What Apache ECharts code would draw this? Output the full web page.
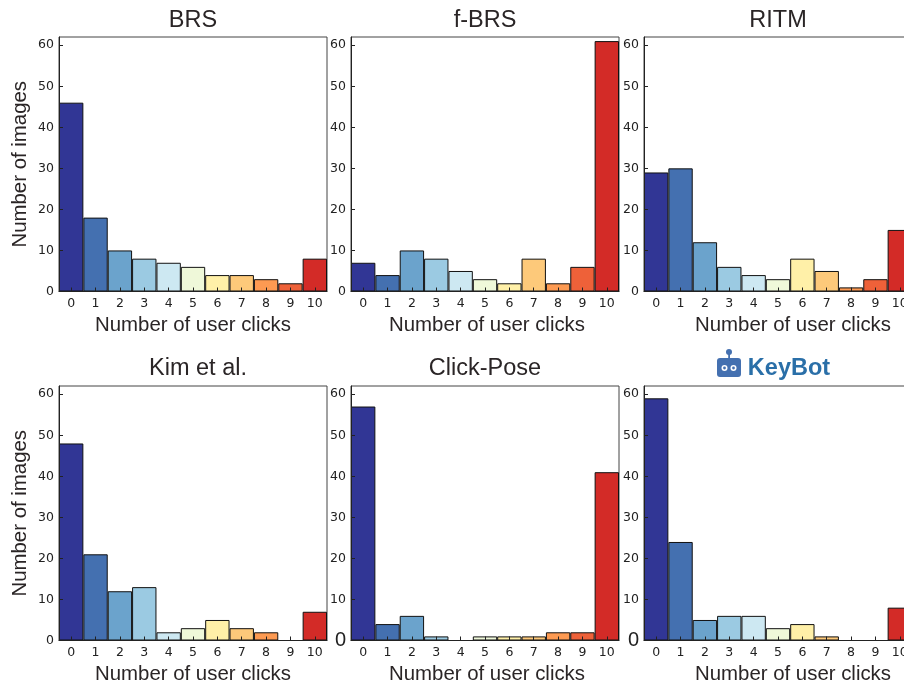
<!DOCTYPE html>
<html>
<head>
<meta charset="utf-8">
<style>html,body{margin:0;padding:0;background:#fff;overflow:hidden}#c{width:904px;height:685px}</style>
<script src="https://cdn.jsdelivr.net/npm/echarts@6/dist/echarts.min.js"></script>
</head>
<body>
<div id="c"></div>
<script>
const categories = ['0','1','2','3','4','5','6','7','8','9','10'];
const yTicks = [0,10,20,30,40,50,60];
const barColors = ['#313695','#4470b0','#6ba3cc','#9bcae2','#cde8f2','#eff8d9','#fff0a8','#fdc97a','#fd9a52','#ee6139','#d32b27'];
const brs = [46,18,10,8,7,6,4,4,3,2,8];
const fbrs = [7,4,10,8,5,3,2,8,2,6,61];
const ritm = [29,30,12,6,4,3,8,5,1,3,15];
const kim = [48,21,12,13,2,3,5,3,2,0,7];
const clickPose = [57,4,6,1,0,1,1,1,2,2,41];
const keyBot = [59,24,5,6,6,3,4,1,0,0,8];
const panels = [
  {name:'BRS', values:brs, left:59, top:37, yName:true, titleDx:0, titleDy:1, xNameDx:0},
  {name:'f-BRS', values:fbrs, left:351, top:37, titleDx:0, titleDy:1, xNameDx:2},
  {name:'RITM', values:ritm, left:644, top:37, titleDx:0, titleDy:1, xNameDx:15},
  {name:'Kim et al.', values:kim, left:59, top:386, yName:true, titleDx:5, titleDy:0, xNameDx:0},
  {name:'Click-Pose', values:clickPose, left:351, top:386, bigZero:true, titleDx:0, titleDy:0, xNameDx:2},
  {name:'KeyBot', values:keyBot, left:644, top:386, bigZero:true, brand:true, titleDx:11, titleDy:0, xNameDx:15}
];
const W = 268, H = 254.5;
const chart = echarts.init(document.getElementById('c'), null, {renderer:'canvas'});
const tickFont = 'DejaVu Sans', textFont = 'Liberation Sans';
chart.setOption({
  animation:false,
  backgroundColor:'#fff',
  title: panels.map(p => ({
    text:p.name,
    padding:0,
    left: p.left + W/2 + p.titleDx,
    top:p.top - 29 + p.titleDy,
    textAlign:'center',
    textStyle:{
      fontFamily:textFont,
      fontSize:23.5,
      fontWeight:p.brand ? 'bold' : 'normal',
      color:p.brand ? '#2a6fa8' : '#2a2526'
    }
  })),
  grid: panels.map(p => ({left:p.left, top:p.top, width:W, height:H, show:true, borderColor:'#444', borderWidth:1, backgroundColor:'transparent', containLabel:false, outerBoundsMode:'none'})),
  xAxis: panels.map((p,i) => ({
    type:'category', gridIndex:i, data:categories, boundaryGap:true, z:5,
    name:'Number of user clicks', nameLocation:'middle', nameGap:24,
    nameTextStyle:{fontFamily:textFont, fontSize:20.4, color:'#2a2526', padding:[0,0,0,2*p.xNameDx]},
    axisLine:{show:true, lineStyle:{color:'#222', width:1}},
    axisTick:{show:true, inside:true, alignWithLabel:true, length:4, lineStyle:{color:'#222', width:1}},
    axisLabel:{show:true, interval:0, fontFamily:tickFont, fontSize:12.5, color:'#222', margin:6}
  })),
  yAxis: panels.map((p,i) => ({
    type:'value', gridIndex:i, min:0, max:62, z:5,
    name:p.yName ? 'Number of images' : '', nameLocation:'middle', nameGap:29, nameRotate:90,
    nameTextStyle:{fontFamily:textFont, fontSize:20.4, color:'#2a2526'},
    splitLine:{show:false},
    axisLine:{show:true, onZero:false, lineStyle:{color:'#222', width:1}},
    axisTick:{show:true, inside:true, length:4, customValues:yTicks, lineStyle:{color:'#222', width:1}},
    axisLabel:{
      show:true, customValues:yTicks, fontFamily:tickFont, fontSize:12.5, color:'#222', margin:5,
      formatter:v => (p.bigZero && v===0) ? '{big|0}' : String(v),
      rich:{big:{fontFamily:textFont, fontSize:20, color:'#222'}}
    }
  })),
  series: panels.map((p,i) => ({
    type:'bar', xAxisIndex:i, yAxisIndex:i, barWidth:'100%', barGap:'0%', z:2,
    data:p.values.map((v,j) => ({value:v, itemStyle:{color:barColors[j]}})),
    itemStyle:{borderColor:'#111', borderWidth:1}
  })),
  graphic: [{
    type:'group', left:717, top:349, silent:true,
    children:[
      {type:'rect', shape:{x:0,y:9,width:24,height:19,r:3}, style:{fill:'#4470b0'}},
      {type:'rect', shape:{x:11.2,y:3,width:1.8,height:7}, style:{fill:'#4470b0'}},
      {type:'circle', shape:{cx:12,cy:3,r:3}, style:{fill:'#4470b0'}},
      {type:'circle', shape:{cx:7.5,cy:19,r:3}, style:{fill:'#fff'}},
      {type:'circle', shape:{cx:16.5,cy:19,r:3}, style:{fill:'#fff'}},
      {type:'circle', shape:{cx:7.5,cy:19,r:1.4}, style:{fill:'#4470b0'}},
      {type:'circle', shape:{cx:16.5,cy:19,r:1.4}, style:{fill:'#4470b0'}}
    ]
  }]
});
</script>
</body>
</html>
